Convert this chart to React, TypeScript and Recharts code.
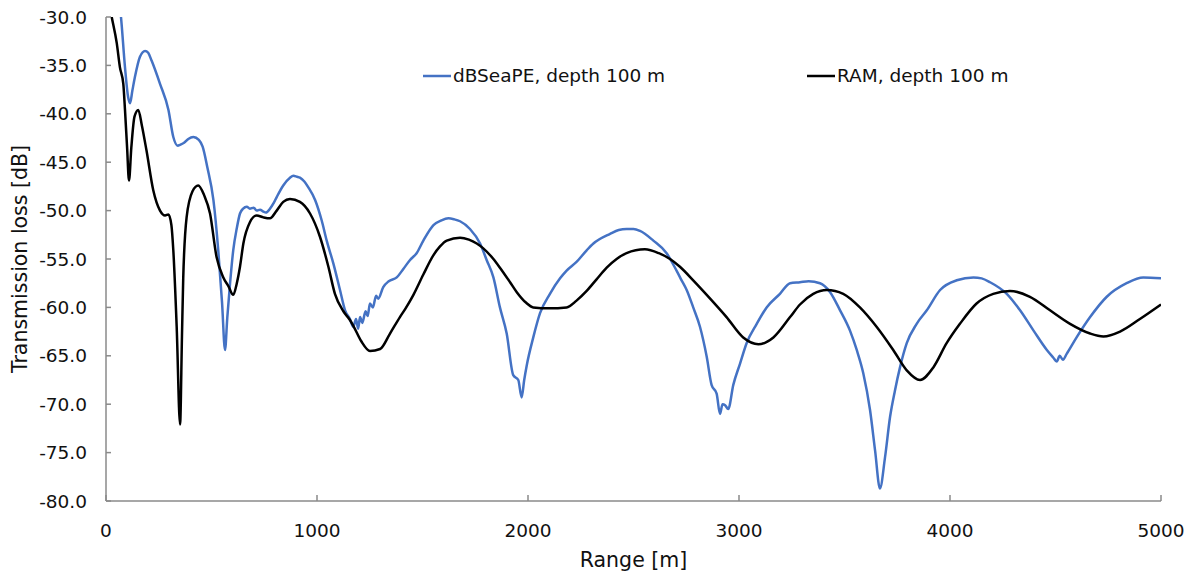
import React from 'react';
import { LineChart, Line, XAxis, YAxis, Legend } from 'recharts';

const dbseaRange = [
  55, 71, 90, 105, 114, 125, 137, 161, 185, 200, 216, 256, 296, 319, 340, 351, 370, 390, 414, 440, 458, 480,
  509, 532, 550, 564, 575, 588, 603, 620, 635, 650, 667, 682, 700, 714, 730, 746, 758, 777, 795, 809, 840,
  872, 888, 905, 919, 940, 959, 991, 1022, 1046, 1078, 1109, 1133, 1156, 1172, 1185, 1195, 1204, 1215, 1230,
  1240, 1251, 1265, 1280, 1290, 1314, 1340, 1378, 1410, 1441, 1472, 1504, 1552, 1590, 1623, 1650, 1678, 1725,
  1773, 1804, 1836, 1867, 1899, 1930, 1954, 1970, 1982, 1994, 2025, 2057, 2104, 2152, 2183, 2230, 2278, 2310,
  2389, 2430, 2467, 2500, 2531, 2594, 2657, 2704, 2728, 2752, 2783, 2815, 2847, 2870, 2894, 2910, 2922, 2934,
  2949, 2973, 3005, 3036, 3084, 3131, 3194, 3242, 3289, 3330, 3384, 3431, 3479, 3526, 3558, 3589, 3621, 3645,
  3668, 3692, 3716, 3739, 3763, 3795, 3842, 3890, 3953, 4032, 4111, 4150, 4190, 4269, 4332, 4396, 4459, 4490,
  4506, 4520, 4535, 4553, 4600, 4664, 4743, 4837, 4916, 5000,
];
const dbseaLoss = [
  -27.0, -30.0, -35.2, -38.3, -38.9, -37.6, -36.2, -34.1, -33.5, -33.7, -34.5, -36.9, -39.6, -42.4, -43.3, -43.2,
  -43.0, -42.6, -42.4, -42.7, -43.4, -45.5, -48.9, -54.1, -59.5, -64.4, -61.0, -57.5, -54.1, -51.8, -50.3, -49.8,
  -49.6, -49.8, -49.7, -50.0, -49.9, -50.1, -50.2, -49.8, -49.2, -48.6, -47.4, -46.6, -46.4, -46.5, -46.6, -47.0,
  -47.6, -48.9, -51.0, -53.1, -55.5, -58.2, -60.3, -61.2, -62.0, -61.2, -62.2, -61.0, -61.6, -60.4, -60.9, -59.6,
  -60.0, -58.8, -59.1, -57.9, -57.3, -56.9, -56.0, -55.1, -54.4, -53.1, -51.5, -51.0, -50.8, -50.9, -51.1, -51.9,
  -53.4, -55.1, -56.9, -60.0, -62.7, -67.0, -67.5, -69.3, -67.5, -66.0, -63.1, -60.6, -58.6, -57.0, -56.2, -55.3,
  -54.1, -53.4, -52.4, -52.0, -51.9, -51.9, -52.1, -53.1, -54.4, -56.2, -57.2, -58.2, -60.0, -62.0, -65.1, -68.0,
  -68.9, -71.0, -70.0, -70.1, -70.5, -68.0, -65.8, -63.7, -61.7, -60.0, -58.6, -57.5, -57.4, -57.3, -57.5, -58.4,
  -60.3, -62.4, -64.4, -66.8, -70.6, -74.8, -78.7, -75.5, -71.3, -68.6, -66.2, -63.7, -61.7, -60.3, -58.2, -57.2,
  -56.9, -57.0, -57.4, -58.6, -60.3, -62.4, -64.4, -65.2, -65.6, -65.0, -65.4, -64.8, -63.1, -61.0, -58.9, -57.5,
  -56.9, -57.0,
];

const ramRange = [
  0, 27, 51, 66, 82, 90, 100, 109, 120, 135, 153, 170, 192, 224, 256, 280, 296, 310, 319, 335, 351, 360, 366, 382,
  410, 437, 465, 493, 524, 556, 580, 603, 620, 635, 651, 682, 714, 746, 777, 809, 840, 872, 919, 967, 1014, 1054,
  1085, 1125, 1156, 1172, 1210, 1251, 1299, 1346, 1393, 1420, 1457, 1504, 1552, 1583, 1615, 1678, 1720, 1757,
  1788, 1836, 1867, 1915, 1946, 1990, 2025, 2100, 2183, 2230, 2278, 2325, 2373, 2420, 2467, 2554, 2620, 2673, 2720,
  2783, 2847, 2941, 3020, 3092, 3163, 3242, 3289, 3352, 3416, 3494, 3573, 3652, 3731, 3795, 3858, 3921, 3984, 4047,
  4126, 4205, 4284, 4379, 4474, 4569, 4664, 4727, 4806, 4900, 5000,
];
const ramLoss = [
  -27.0, -30.0, -32.7, -35.2, -36.9, -39.6, -43.5, -46.9, -43.5, -40.3, -39.6, -41.2, -43.8, -47.9, -50.0, -50.5,
  -50.4, -51.5, -54.1, -62.0, -72.1, -63.0, -57.0, -50.7, -48.0, -47.4, -48.4, -50.3, -54.8, -56.9, -57.8, -58.7,
  -57.5, -55.8, -53.4, -51.2, -50.5, -50.7, -50.8, -50.0, -49.1, -48.8, -49.1, -50.3, -52.7, -55.8, -58.6, -60.4,
  -61.3, -61.9, -63.5, -64.5, -64.3, -62.7, -61.0, -60.1, -58.7, -56.6, -54.6, -53.7, -53.1, -52.8, -53.0,
  -53.4, -53.9, -55.0, -55.9, -57.4, -58.4, -59.5, -60.0, -60.1, -60.0, -59.3, -58.3, -57.1, -55.9, -55.0, -54.4,
  -54.0, -54.4, -55.0, -55.8, -57.2, -58.7, -61.0, -63.1, -63.8, -63.1, -61.0, -59.7, -58.6, -58.2, -58.6, -60.0,
  -62.0, -64.4, -66.5, -67.5, -66.2, -63.7, -61.7, -59.6, -58.6, -58.3, -58.9, -60.3, -61.7, -62.7, -63.0, -62.5,
  -61.2, -59.7,
];

const xTicks = [0, 1000, 2000, 3000, 4000, 5000];
const yTicks = [-80, -75, -70, -65, -60, -55, -50, -45, -40, -35, -30];

const seriesNames = ['dBSeaPE, depth 100 m', 'RAM, depth 100 m'];
const seriesColors = ['#4472C4', '#000000'];

const dbseaData = dbseaRange.map((x, i) => ({ x, y: dbseaLoss[i] }));
const ramData = ramRange.map((x, i) => ({ x, y: ramLoss[i] }));

const FONT = '"DejaVu Sans", sans-serif';
const AXIS_COLOR = '#8a8a8a';
const TEXT_COLOR = '#111111';

const XTick = (props: any) => {
  const { x, y, payload } = props;
  return (
    <g>
      <line x1={x} x2={x} y1={y - 6} y2={y} stroke={AXIS_COLOR} strokeWidth={1.5} />
      <text x={x} y={y + 36} textAnchor="middle" fontFamily={FONT} fontSize={18.5} fill={TEXT_COLOR}>
        {payload.value}
      </text>
    </g>
  );
};

const YTick = (props: any) => {
  const { x, y, payload } = props;
  return (
    <g>
      <line x1={x} x2={x + 5} y1={y} y2={y} stroke={AXIS_COLOR} strokeWidth={1.5} />
      <text x={x - 19} y={y + 6.5} textAnchor="end" fontFamily={FONT} fontSize={18.5} fill={TEXT_COLOR}>
        {Number(payload.value).toFixed(1)}
      </text>
    </g>
  );
};

const XLabel = (props: any) => {
  const vb = props.viewBox || {};
  return (
    <text x={vb.x + vb.width / 2} y={567} textAnchor="middle" fontFamily={FONT} fontSize={20.5} fill={TEXT_COLOR}>
      Range [m]
    </text>
  );
};

const YLabel = (props: any) => {
  const vb = props.viewBox || {};
  const cy = vb.y + vb.height / 2;
  return (
    <text
      x={27}
      y={cy}
      transform={`rotate(-90, 27, ${cy})`}
      textAnchor="middle"
      fontFamily={FONT}
      fontSize={20.5}
      fill={TEXT_COLOR}
    >
      Transmission loss [dB]
    </text>
  );
};

const legendLefts = [423, 807];

const LegendContent = () => (
  <div style={{ position: 'relative', width: 1201, height: 30 }}>
    {seriesNames.map((name, i) => (
      <div
        key={name}
        style={{
          position: 'absolute',
          left: legendLefts[i],
          top: 0,
          display: 'flex',
          alignItems: 'center',
          height: 24,
          whiteSpace: 'nowrap',
        }}
      >
        <svg width={28} height={6} style={{ display: 'block' }}>
          <line x1={0} x2={28} y1={3} y2={3} stroke={seriesColors[i]} strokeWidth={2.5} />
        </svg>
        <span style={{ marginLeft: 2, fontFamily: FONT, fontSize: 18.5, color: TEXT_COLOR, lineHeight: '24px' }}>
          {name}
        </span>
      </div>
    ))}
  </div>
);

export default function App() {
  return (
    <div style={{ position: 'absolute', left: 0, top: 0, width: 1201, height: 578, background: '#fff' }}>
      <LineChart width={1201} height={578} margin={{ top: 17, right: 40, left: 0, bottom: 0 }}>
        <XAxis
          type="number"
          dataKey="x"
          domain={[0, 5000]}
          ticks={xTicks}
          interval={0}
          height={77}
          tickSize={0}
          tickMargin={0}
          tick={<XTick />}
          axisLine={{ stroke: AXIS_COLOR, strokeWidth: 1.5 }}
          tickLine={false}
          allowDataOverflow
          label={<XLabel />}
        />
        <YAxis
          type="number"
          dataKey="y"
          domain={[-80, -30]}
          ticks={yTicks}
          interval={0}
          width={106}
          tickSize={0}
          tickMargin={0}
          tick={<YTick />}
          axisLine={{ stroke: AXIS_COLOR, strokeWidth: 1.5 }}
          tickLine={false}
          allowDataOverflow
          label={<YLabel />}
        />
        <Legend
          layout="horizontal"
          verticalAlign="middle"
          align="center"
          content={<LegendContent />}
          wrapperStyle={{ position: 'absolute', left: 0, top: 64, width: 1201, height: 30 }}
        />
        <Line
          data={dbseaData}
          dataKey="y"
          name={seriesNames[0]}
          type="monotone"
          stroke={seriesColors[0]}
          strokeWidth={2.5}
          dot={false}
          activeDot={false}
          isAnimationActive={false}
        />
        <Line
          data={ramData}
          dataKey="y"
          name={seriesNames[1]}
          type="monotone"
          stroke={seriesColors[1]}
          strokeWidth={2.5}
          dot={false}
          activeDot={false}
          isAnimationActive={false}
        />
      </LineChart>
    </div>
  );
}
